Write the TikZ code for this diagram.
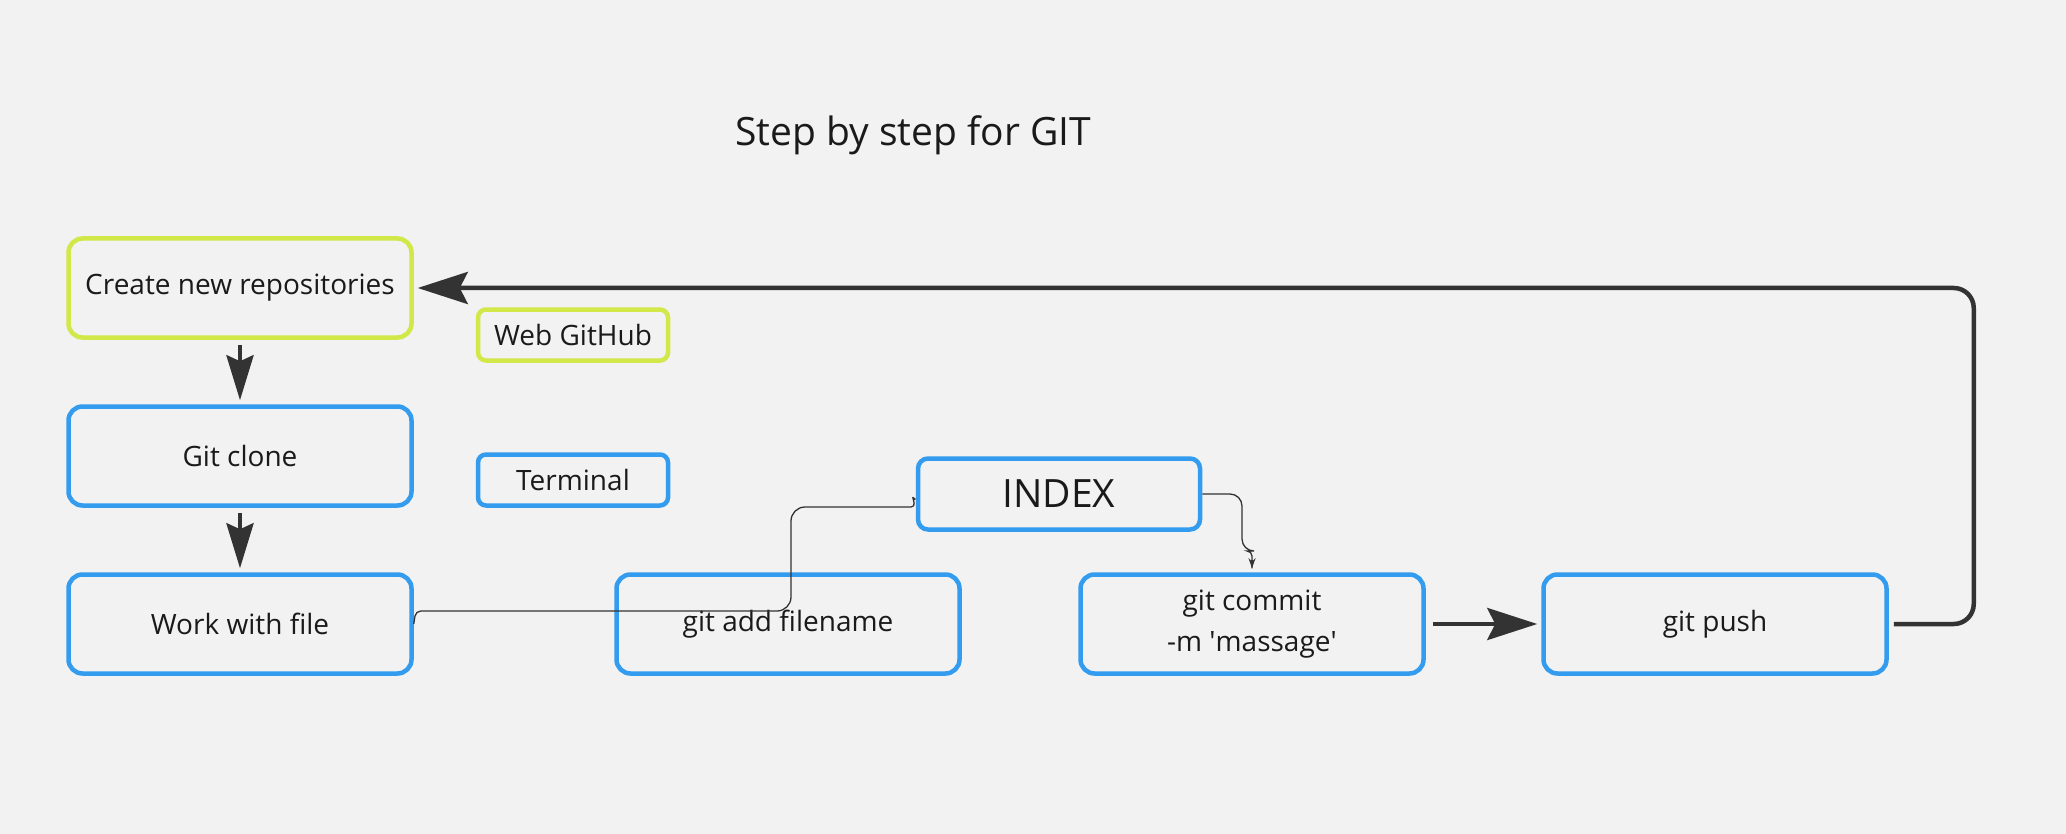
\documentclass[tikz,border=0pt]{standalone}
\usepackage{fontspec}
\setmainfont{Open Sans}
\usetikzlibrary{arrows.meta}

\definecolor{bgcol}{HTML}{F2F2F2}
\definecolor{boxblue}{HTML}{339CEE}
\definecolor{boxgreen}{HTML}{D2E748}
\definecolor{arrowcol}{HTML}{333333}
\definecolor{textcol}{HTML}{1A1A1A}

\begin{document}
\begin{tikzpicture}[x=1pt, y=-1pt,
        stepbox/.style={draw=boxblue, line width=4.5pt, rounded corners=14pt, fill=bgcol,
            minimum width=343pt, minimum height=99pt, inner sep=0pt, align=center,
            text=textcol, font=\fontsize{28}{41}\selectfont},
        webbox/.style={stepbox, draw=boxgreen, minimum width=190pt, minimum height=51pt, rounded corners=8pt},
        termbox/.style={stepbox, minimum width=190pt, minimum height=51pt, rounded corners=8pt},
        bigarrow/.style={draw=arrowcol, line width=4.5pt, -{Stealth[length=50pt, width=32pt, inset=8pt]}},
        downarrow/.style={draw=arrowcol, line width=4.5pt, -{Stealth[length=45pt, width=27pt, inset=6pt]}},
        thinlink/.style={draw=arrowcol, line width=1.3pt}]
    \fill[bgcol] (0,0) rectangle (2066,834);
    \useasboundingbox (0,0) rectangle (2066,834);

    \node[text=textcol, font=\fontsize{39}{46}\selectfont] (title) at (913,135) {Step by step for GIT};

    \node[stepbox, draw=boxgreen] (create) at (240,288) {Create new repositories};
    \node[webbox] (web) at (573,335) {Web GitHub};
    \node[stepbox] (clone) at (240,456) {Git clone};
    \node[termbox] (terminal) at (573,480) {Terminal};
    \node[stepbox] (work) at (240,624) {Work with file};
    \node[stepbox] (add) at (788,624) {git add filename};
    \node[stepbox, minimum width=282pt, minimum height=71pt, rounded corners=10pt,
        font=\fontsize{39}{46}\selectfont] (index) at (1059,494) {INDEX};
    \node[stepbox] (commit) at (1252,624) {git commit\\-m \textquotesingle massage\textquotesingle};
    \node[stepbox] (push) at (1715,624) {git push};

    \draw[downarrow, shorten <=5pt, shorten >=4pt] (create.south) -- (clone.north);
    \draw[downarrow, shorten <=5pt, shorten >=4pt] (clone.south) -- (work.north);
    \draw[bigarrow, shorten <=7pt, shorten >=4pt] (commit.east) -- (push.east -| push.west);
    \draw[bigarrow, rounded corners=20pt, shorten <=5pt, shorten >=4pt]
        (push.east) -- ++(85,0) |- (create.east);

    \draw[thinlink] (work.east) [rounded corners=5pt] -- ++(2,-13) [rounded corners=14pt] -- (791,611)
        -- (791,507) [rounded corners=4pt] -- (915,507)
        -- ([xshift=-3pt, yshift=-3pt]index.west);
    \draw[thinlink, -{Stealth[length=3pt, width=3pt]}] (915,500) -- ([xshift=-3pt, yshift=-3pt]index.west);
    \draw[thinlink, rounded corners=12pt] (index.east) -- (1242,494) -- (1242,551)
        [rounded corners=5pt] -- (1252,551) -- ([yshift=4pt]commit.north);
    \draw[thinlink, -{Stealth[length=10pt, width=7pt]}] (1252,560) -- ([yshift=4pt]commit.north);
\end{tikzpicture}
\end{document}
